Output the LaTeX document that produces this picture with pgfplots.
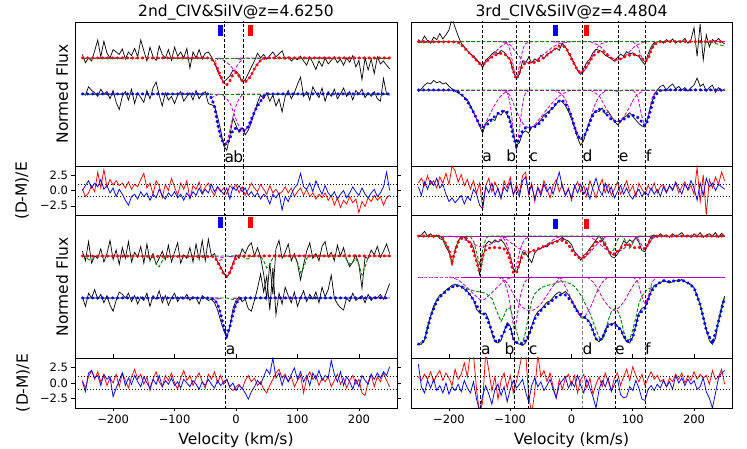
\documentclass[border=0pt]{standalone}
\usepackage{pgfplots}
\usepackage{pgfplotstable}
\pgfplotsset{compat=1.18}
\usepackage{fontspec}
\setmainfont{DejaVu Sans}
\definecolor{mplred}{RGB}{255,0,0}
\definecolor{mplblue}{RGB}{0,0,255}
\definecolor{mplgreen}{RGB}{0,128,0}
\definecolor{mplmag}{RGB}{191,0,191}
\newcommand{\lab}{\fontsize{15.5bp}{18bp}\selectfont}
\pgfplotsset{
  base/.style={scale only axis, xmin=-262, xmax=262, axis line style={line width=0.8bp},
    tick style={black, line width=0.6bp}, tick align=outside, major tick length=3.5bp,
    xtick=\empty, ytick=\empty, ticklabel style={font=\fontsize{11.5bp}{13bp}\selectfont}},
  dat/.style={black, line width=0.7bp},
  modr/.style={mplred, line width=3bp, line cap=round, dash pattern=on 0.6bp off 4.4bp},
  modb/.style={mplblue, line width=3bp, line cap=round, dash pattern=on 0.6bp off 4.4bp},
  grn/.style={mplgreen, line width=0.9bp, dash pattern=on 3.5bp off 1.8bp},
  mag/.style={mplmag, line width=0.8bp, dash pattern=on 3.5bp off 1.8bp, smooth},
  vl/.style={black, line width=0.9bp, dash pattern=on 3.2bp off 2bp},
  resr/.style={mplred, line width=0.75bp},
  resb/.style={mplblue, line width=0.75bp},
  dotl/.style={black, line width=1.2bp, dash pattern=on 1.2bp off 1.8bp},
}
\pgfplotstableread{
x u l
-250 1.66 1.02
-245 1.52 0.98
-240 1.60 1.12
-235 1.55 1.06
-230 1.72 1.02
-225 1.90 0.96
-220 1.62 1.08
-215 1.88 1.00
-210 1.68 1.04
-205 1.60 0.92
-200 1.74 1.06
-195 1.70 0.86
-190 1.66 0.74
-185 1.75 0.96
-180 1.58 1.04
-175 1.70 0.90
-170 1.64 1.08
-165 1.76 0.84
-160 1.62 1.02
-155 1.90 0.94
-150 1.72 0.86
-145 1.55 1.06
-140 1.78 0.92
-135 1.62 1.10
-130 1.56 1.20
-125 1.80 0.98
-120 1.66 0.80
-115 1.60 1.02
-110 1.74 0.90
-105 1.56 0.96
-100 1.78 0.84
-95 1.63 0.98
-90 1.70 1.04
-85 1.60 0.88
-80 1.76 0.96
-75 1.43 1.02
-70 1.70 0.90
-65 1.60 1.06
-60 1.74 0.92
-55 1.58 1.00
-50 1.68 1.04
-45 1.70 0.84
-40 1.62 0.82
-35 1.52 0.80
-30 1.38 0.62
-25 1.27 0.40
-20 1.20 0.14
-15 1.25 0.06
-10 1.30 0.30
-5 1.40 0.60
0 1.38 0.48
5 1.32 0.36
10 1.20 0.44
15 1.24 0.32
20 1.34 0.40
25 1.45 0.52
30 1.55 0.70
35 1.68 0.86
40 1.60 0.98
45 1.66 0.92
50 1.58 1.02
55 1.64 0.88
60 1.70 0.98
65 1.62 0.80
70 1.67 0.92
75 1.72 0.70
80 1.58 0.96
85 1.62 1.06
90 1.55 0.92
95 1.60 1.02
100 1.57 1.16
105 1.63 1.28
110 1.55 0.96
115 1.48 1.04
120 1.62 0.90
125 1.52 1.12
130 1.41 1.02
135 1.55 0.94
140 1.46 1.10
145 1.60 0.88
150 1.50 1.04
155 1.56 0.96
160 1.62 1.08
165 1.52 0.92
170 1.58 1.00
175 1.48 1.10
180 1.60 0.96
185 1.53 1.04
190 1.64 0.90
195 1.45 1.06
200 1.56 1.00
205 1.24 1.08
210 1.60 0.94
215 1.40 1.02
220 1.58 0.96
225 1.34 1.04
230 1.62 0.92
235 1.50 0.88
240 1.55 1.26
245 1.48 1.00
250 1.42 0.98
}\LT
\pgfplotstableread{
x u l
-250 1.78 1.02
-245 1.62 0.86
-240 1.94 1.08
-235 1.58 1.00
-230 1.70 1.14
-225 1.66 0.98
-220 1.82 1.06
-215 1.60 0.92
-210 1.74 1.04
-205 1.96 0.88
-200 1.64 0.78
-195 1.80 0.96
-190 1.56 1.10
-185 1.84 1.06
-180 1.66 1.00
-175 1.94 1.08
-170 1.60 0.94
-165 1.76 1.04
-160 1.68 0.90
-155 1.86 1.02
-150 1.58 0.96
-145 1.90 1.08
-140 1.62 0.86
-135 1.74 1.04
-130 1.56 0.98
-125 1.66 1.12
-120 1.78 0.92
-115 1.64 1.04
-110 1.88 0.88
-105 1.60 1.00
-100 1.76 1.08
-95 1.92 0.94
-90 1.58 1.02
-85 1.72 0.98
-80 1.66 1.06
-75 1.84 0.96
-70 1.60 1.02
-65 1.90 1.00
-60 1.64 0.90
-55 1.96 1.04
-50 1.62 1.00
-45 1.98 0.96
-40 1.70 0.98
-35 1.74 0.92
-30 1.60 0.80
-25 1.52 0.62
-20 1.42 0.46
-15 1.34 0.34
-10 1.42 0.52
-5 1.58 0.82
0 1.72 0.96
5 1.66 1.02
10 1.82 0.94
15 1.74 0.98
20 1.86 0.82
25 1.92 0.78
30 1.70 0.96
35 1.84 1.16
40 1.68 1.40
45 1.40 1.10
50 1.00 1.36
55 1.58 0.80
60 1.06 1.50
65 1.82 0.72
70 1.96 1.08
75 1.66 0.90
80 1.76 1.18
85 1.90 1.04
90 1.62 0.92
95 1.74 1.10
100 1.58 0.86
105 1.30 1.00
110 1.56 1.12
115 1.78 0.94
120 1.92 1.06
125 1.66 0.98
130 1.74 1.10
135 1.62 0.92
140 1.86 1.18
145 1.94 1.02
150 1.68 1.14
155 1.76 1.38
160 1.62 1.00
165 1.88 0.90
170 1.70 0.84
175 1.84 0.80
180 1.64 1.00
185 1.52 0.94
190 1.60 1.08
195 1.72 0.96
200 1.56 1.00
205 1.16 1.04
210 1.68 0.92
215 1.66 1.06
220 1.80 0.96
225 1.72 1.02
230 1.86 1.00
235 1.68 1.06
240 1.78 0.98
245 1.90 1.10
250 1.74 1.24
}\LB
\pgfplotstableread{
x u l
-250 1.84 0.97
-245 1.80 1.02
-240 1.90 1.08
-235 1.82 1.12
-230 1.78 1.10
-225 1.88 1.16
-220 1.84 1.12
-215 1.94 1.14
-210 1.85 1.10
-205 1.92 1.12
-200 2.00 1.06
-195 2.20 1.02
-190 2.04 0.98
-185 1.90 0.95
-180 1.78 0.92
-175 1.72 0.88
-170 1.66 0.84
-165 1.60 0.74
-160 1.57 0.64
-155 1.51 0.52
-150 1.46 0.40
-145 1.37 0.28
-140 1.50 0.44
-135 1.54 0.50
-130 1.60 0.52
-125 1.64 0.49
-120 1.60 0.62
-115 1.66 0.58
-110 1.63 0.66
-105 1.56 0.58
-100 1.50 0.50
-95 1.30 0.26
-90 1.20 0.08
-85 1.26 0.12
-80 1.48 0.28
-75 1.44 0.32
-70 1.55 0.28
-65 1.45 0.38
-60 1.52 0.40
-55 1.48 0.44
-50 1.58 0.50
-45 1.52 0.58
-40 1.60 0.62
-35 1.62 0.66
-30 1.66 0.70
-25 1.70 0.76
-20 1.66 0.83
-15 1.78 0.80
-10 1.72 0.74
-5 1.62 0.64
0 1.54 0.52
5 1.44 0.36
10 1.32 0.20
15 1.26 0.08
20 1.36 0.16
25 1.46 0.34
30 1.52 0.50
35 1.62 0.60
40 1.68 0.66
45 1.66 0.64
50 1.64 0.70
55 1.58 0.60
60 1.55 0.64
65 1.52 0.56
70 1.48 0.48
75 1.54 0.42
80 1.60 0.47
85 1.56 0.54
90 1.64 0.57
95 1.60 0.62
100 1.62 0.56
105 1.58 0.50
110 1.56 0.44
115 1.48 0.40
120 1.42 0.38
125 1.60 0.56
130 1.72 0.76
135 1.79 0.92
140 1.80 1.00
145 1.82 1.06
150 1.78 1.08
155 1.84 1.00
160 1.80 1.06
165 1.85 1.10
170 1.78 1.02
175 1.82 1.06
180 1.80 1.00
185 1.86 1.04
190 1.78 0.98
195 1.84 1.04
200 2.04 1.08
205 1.56 1.20
210 2.10 1.06
215 1.50 1.10
220 1.92 0.98
225 1.72 1.04
230 1.84 1.08
235 1.80 0.96
240 1.86 1.04
245 1.80 0.98
250 1.77 1.02
}\RT
\pgfplotstableread{
x u l
-250 1.69 -0.12
-245 1.70 -0.12
-240 1.76 -0.05
-235 1.68 0.18
-230 1.72 0.36
-225 1.66 0.52
-220 1.70 0.62
-215 1.64 0.70
-210 1.62 0.72
-205 1.50 0.78
-200 1.42 0.82
-195 1.22 0.86
-190 1.46 0.88
-185 1.60 0.86
-180 1.68 0.84
-175 1.66 0.80
-170 1.60 0.76
-165 1.58 0.70
-160 1.48 0.62
-155 1.28 0.46
-150 1.04 0.40
-145 1.30 0.38
-140 1.54 0.40
-135 1.60 0.28
-130 1.56 0.06
-125 1.62 -0.08
-120 1.58 -0.10
-115 1.62 -0.06
-110 1.56 0.10
-105 1.46 0.24
-100 1.34 0.18
-95 1.14 -0.04
-90 1.08 -0.10
-85 1.20 -0.12
-80 1.42 -0.14
-75 1.40 -0.10
-70 1.32 0.02
-65 1.24 0.18
-60 1.40 0.34
-55 1.46 0.42
-50 1.48 0.46
-45 1.52 0.52
-40 1.50 0.58
-35 1.56 0.60
-30 1.58 0.66
-25 1.60 0.72
-20 1.62 0.75
-15 1.66 0.72
-10 1.62 0.76
-5 1.60 0.70
0 1.54 0.62
5 1.42 0.52
10 1.36 0.44
15 1.28 0.34
20 1.36 0.32
25 1.40 0.30
30 1.48 0.24
35 1.54 0.10
40 1.62 -0.04
45 1.68 -0.08
50 1.62 -0.02
55 1.54 0.12
60 1.44 0.22
65 1.34 0.20
70 1.32 0.24
75 1.38 0.18
80 1.48 0.14
85 1.60 0.00
90 1.56 -0.08
95 1.62 -0.10
100 1.58 0.00
105 1.66 0.20
110 1.58 0.40
115 1.44 0.48
120 1.42 0.50
125 1.56 0.62
130 1.68 0.76
135 1.70 0.86
140 1.66 0.88
145 1.72 0.90
150 1.68 0.94
155 1.70 0.92
160 1.66 0.90
165 1.72 0.92
170 1.68 0.94
175 1.70 0.92
180 1.74 0.96
185 1.67 0.92
190 1.70 0.90
195 1.66 0.88
200 1.72 0.82
205 1.68 0.70
210 1.74 0.54
215 1.66 0.34
220 1.70 0.12
225 1.72 -0.06
230 1.68 -0.12
235 1.74 -0.02
240 1.66 0.28
245 1.73 0.52
250 1.68 0.68
}\RB
\pgfplotstableread{
x r b
-250 0.2 0.0
-245 -1.0 0.8
-240 -0.4 1.6
-235 0.8 0.4
-230 -0.2 1.2
-225 3.0 0.6
-220 0.4 1.8
-215 3.4 0.2
-210 0.6 0.8
-205 1.8 -0.4
-200 0.9 0.4
-195 1.6 -1.0
-190 0.8 0.2
-185 1.2 -0.6
-180 0.4 -1.6
-175 1.4 -2.4
-170 0.2 -1.0
-165 1.0 -0.6
-160 0.6 -1.4
-155 1.8 -0.2
-150 2.8 -1.0
-145 0.4 -0.4
-140 1.2 -1.6
-135 -0.6 -0.6
-130 1.6 -1.2
-125 0.8 0.2
-120 -1.2 -0.8
-115 1.0 -1.4
-110 0.0 -0.4
-105 2.0 -1.0
-100 0.6 -0.2
-95 -0.8 -1.2
-90 1.2 -0.6
-85 0.2 -1.6
-80 1.6 -0.4
-75 -1.4 -1.2
-70 0.8 -0.2
-65 0.2 -0.8
-60 1.4 0.4
-55 -0.4 -0.6
-50 0.6 0.2
-45 1.2 -0.4
-40 0.0 1.0
-35 -0.8 -0.2
-30 0.6 0.6
-25 -0.2 0.0
-20 0.4 -0.6
-15 -0.6 0.4
-10 0.8 -1.4
-5 0.2 0.6
0 1.0 0.0
5 -0.4 0.8
10 0.6 -0.2
15 -0.8 0.4
20 0.2 -0.8
25 1.2 -0.2
30 0.4 -1.0
35 -0.2 -0.4
40 1.0 -1.4
45 0.2 -0.6
50 -0.6 -1.0
55 0.8 -2.2
60 -0.4 -0.6
65 0.2 -1.2
70 -0.6 -0.4
75 -0.2 -3.2
80 0.6 -1.0
85 -0.4 -1.8
90 0.4 -0.6
95 -1.0 0.4
100 -0.2 1.0
105 0.4 2.8
110 -0.8 0.6
115 0.2 0.2
120 -1.0 1.2
125 -0.4 -0.2
130 -1.4 1.6
135 -0.6 0.4
140 -1.2 -0.6
145 -0.4 0.8
150 -1.6 -0.4
155 -0.8 -1.0
160 -2.4 -0.2
165 -1.2 -1.4
170 -2.8 -0.6
175 -1.6 0.0
180 -2.2 -1.2
185 -1.0 -0.4
190 -2.0 0.6
195 -1.4 -0.2
200 -3.6 -0.8
205 -1.8 0.4
210 -2.6 -0.6
215 -1.2 -1.2
220 -1.8 -0.4
225 -0.8 0.2
230 -1.6 -1.0
235 -1.0 -0.4
240 -2.4 0.6
245 -1.2 3.0
250 -0.8 0.0
}\RLT
\pgfplotstableread{
x r b
-250 0.4 0.2
-245 -0.8 -1.4
-240 1.0 1.6
-235 2.0 2.0
-230 0.6 0.8
-225 1.8 1.2
-220 0.2 -0.4
-215 1.2 1.4
-210 -0.4 0.6
-205 0.8 1.0
-200 0.0 -2.2
-195 1.4 -0.8
-190 -0.6 0.4
-185 1.6 1.6
-180 0.4 -0.4
-175 -0.8 0.8
-170 1.0 -0.2
-165 2.2 1.2
-160 0.6 0.2
-155 1.4 -0.6
-150 -0.2 1.0
-145 1.0 0.0
-140 -1.2 -0.8
-135 0.6 0.6
-130 1.8 -0.2
-125 0.2 1.2
-120 -0.6 -0.6
-115 1.2 0.4
-110 0.4 -0.2
-105 1.6 0.8
-100 0.0 -0.4
-95 -1.0 0.2
-90 0.8 -0.8
-85 2.0 0.6
-80 0.4 0.0
-75 1.2 -0.6
-70 -0.4 0.4
-65 0.8 -0.2
-60 1.6 -1.0
-55 0.2 0.2
-50 -0.8 -0.4
-45 1.4 0.6
-40 0.6 -0.2
-35 1.8 -0.8
-30 0.0 0.4
-25 1.2 -0.4
-20 -0.2 0.2
-15 0.6 0.6
-10 -0.8 -0.6
-5 -1.2 0.0
0 -0.6 -1.2
5 -0.2 -0.4
10 -1.0 -0.8
15 0.4 -1.6
20 1.2 -2.6
25 0.2 -1.4
30 0.8 -0.6
35 -0.4 0.4
40 0.2 -0.2
45 -1.0 1.0
50 -1.6 2.2
55 -0.4 1.4
60 0.6 4.0
65 1.6 0.8
70 2.2 1.6
75 0.8 -0.4
80 1.4 1.2
85 0.2 0.2
90 1.0 1.4
95 -0.6 2.4
100 0.4 0.6
105 1.2 1.8
110 -1.6 0.2
115 0.8 1.2
120 1.8 -0.4
125 0.6 1.6
130 1.2 0.6
135 -0.4 2.0
140 0.8 0.4
145 0.2 1.2
150 1.0 0.8
155 -0.6 3.6
160 0.4 1.4
165 1.4 0.2
170 -0.2 1.8
175 0.8 -0.4
180 -0.8 1.0
185 0.4 0.2
190 1.2 -1.0
195 -0.2 0.6
200 0.6 -0.6
205 -1.6 1.2
210 -2.0 0.4
215 0.2 -0.2
220 1.4 1.4
225 -0.6 0.6
230 1.0 1.6
235 0.2 0.8
240 1.6 1.8
245 0.4 1.2
250 -0.6 2.6
}\RLB
\pgfplotstableread{
x r b
-250 1.2 0.6
-245 2.0 -0.8
-240 0.8 1.4
-235 2.4 0.2
-230 1.0 1.6
-225 1.6 0.8
-220 0.4 2.0
-215 2.2 0.4
-210 1.2 1.0
-205 2.8 -0.6
-200 1.0 -1.8
-195 4.0 -1.2
-190 3.2 -2.0
-185 1.4 -1.4
-180 2.6 -0.8
-175 0.8 -2.2
-170 1.8 -1.0
-165 0.2 -1.6
-160 1.6 0.2
-155 -0.4 -0.6
-150 1.2 -2.4
-145 -2.8 -3.0
-140 0.8 0.6
-135 2.0 -0.4
-130 -0.2 1.2
-125 1.4 -0.8
-120 0.2 0.4
-115 -1.4 -1.2
-110 1.6 0.6
-105 0.4 -0.2
-100 2.2 1.4
-95 -0.8 -0.6
-90 1.0 0.2
-85 -0.4 -1.0
-80 2.4 1.6
-75 3.0 2.2
-70 -0.6 -0.4
-65 1.2 0.8
-60 -1.8 -1.4
-55 0.6 0.4
-50 -0.4 -0.8
-45 1.6 1.0
-40 0.2 -0.2
-35 -1.2 0.6
-30 0.8 -0.6
-25 1.8 1.2
-20 -0.2 3.0
-15 1.0 0.6
-10 -0.8 -0.8
-5 0.4 0.2
0 -1.6 -1.2
5 0.6 0.8
10 1.4 -0.4
15 -0.2 1.0
20 0.8 -0.6
25 -1.0 0.4
30 1.6 -1.4
35 0.2 0.6
40 -1.2 2.0
45 0.6 0.2
50 1.8 -0.8
55 -0.4 1.2
60 1.0 -0.4
65 -0.8 0.6
70 0.2 -1.2
75 1.4 -0.2
80 -0.6 0.8
85 0.4 -0.6
90 1.6 0.4
95 -0.2 -0.8
100 0.8 -1.4
105 -1.0 -0.4
110 1.2 0.2
115 0.2 -1.0
120 -0.6 -0.2
125 0.8 -0.8
130 0.0 0.4
135 1.2 -0.6
140 -0.4 0.2
145 0.6 -1.0
150 1.0 0.6
155 -0.2 -0.4
160 0.8 0.8
165 0.2 0.0
170 1.2 1.4
175 -0.4 0.4
180 0.6 -0.6
185 1.4 1.0
190 0.0 0.2
195 0.8 1.6
200 -0.6 0.4
205 3.8 -1.6
210 -1.8 1.2
215 2.6 -0.8
220 -4.0 2.0
225 1.8 0.6
230 0.4 1.2
235 2.2 0.0
240 1.0 1.0
245 3.0 0.6
250 1.6 0.2
}\RRT
\pgfplotstableread{
x r b
-250 1.0 3.0
-245 0.4 -0.6
-240 1.4 -1.6
-235 0.6 0.4
-230 1.8 -0.8
-225 0.2 0.6
-220 1.2 -1.2
-215 2.0 -0.4
-210 0.4 -1.6
-205 1.6 0.0
-200 0.8 -1.8
-195 -0.4 -0.6
-190 2.2 -1.2
-185 0.6 -0.2
-180 1.4 -1.4
-175 3.2 0.4
-170 1.0 -0.8
-165 5.0 -1.6
-160 4.5 0.2
-155 -1.0 -2.6
-150 -5.0 -4.5
-145 -3.0 -2.0
-140 5.0 -0.4
-135 2.0 -1.8
-130 -1.2 -3.4
-125 1.0 -1.0
-120 -2.6 -0.2
-115 0.4 -2.0
-110 1.6 -0.6
-105 -0.8 -3.0
-100 1.2 -1.0
-95 -1.6 0.4
-90 0.2 -0.8
-85 2.4 -0.2
-80 5.0 0.6
-75 5.0 -1.4
-70 -2.0 -3.0
-65 -5.0 -0.4
-60 -1.4 0.8
-55 4.6 -0.6
-50 1.0 0.2
-45 2.0 -1.2
-40 0.2 -0.4
-35 1.6 0.6
-30 -0.6 -1.0
-25 -2.4 -2.4
-20 0.6 -0.2
-15 -1.0 0.4
-10 0.8 1.0
-5 1.4 -0.8
0 -0.4 0.2
5 1.2 -0.6
10 -1.6 1.2
15 0.6 -0.4
20 1.4 -1.6
25 -0.8 0.6
30 0.8 -0.8
35 -1.8 -2.2
40 -0.2 -4.0
45 1.0 -1.0
50 -0.6 0.4
55 1.6 -0.6
60 0.2 0.8
65 -1.2 -1.4
70 0.8 -0.2
75 1.6 0.6
80 -0.4 -1.8
85 1.0 -2.4
90 2.2 -2.2
95 0.4 -0.6
100 2.6 -1.2
105 1.2 0.4
110 0.2 -0.8
115 1.4 -2.6
120 -0.4 -2.8
125 0.8 -1.0
130 1.8 -0.4
135 0.6 -1.2
140 1.2 -0.2
145 0.2 -0.8
150 0.6 0.4
155 -0.6 -0.6
160 0.8 0.2
165 0.2 -1.0
170 1.4 1.2
175 0.6 0.0
180 1.6 0.8
185 0.0 -0.4
190 1.2 0.6
195 0.4 -0.2
200 1.8 0.4
205 0.6 -1.0
210 1.4 -0.6
215 0.8 0.8
220 1.2 -1.4
225 -0.2 -2.4
230 2.0 -4.0
235 0.6 -1.6
240 1.0 0.8
245 2.2 1.6
250 -0.2 2.0
}\RRB
\begin{document}
\begin{tikzpicture}[x=1bp,y=1bp]
\useasboundingbox (0,0) rectangle (747,449);
\coordinate (pLT) at (75,427);
\coordinate (pLTr) at (75,283);
\coordinate (pLB) at (75,234);
\coordinate (pLBr) at (75,91);
\coordinate (pRT) at (411,427);
\coordinate (pRTr) at (411,283);
\coordinate (pRB) at (411,234);
\coordinate (pRBr) at (411,91);
% ================= LEFT TOP FLUX
\begin{axis}[base, at={(pLT)}, anchor=north west, width=322bp, height=144bp, ymin=-0.2, ymax=2.2]
\addplot[dat] table[x=x,y=u]{\LT};
\addplot[dat] table[x=x,y=l]{\LT};
\addplot[mag] coordinates {(-250,1.6)(-45,1.6)(-35,1.52)(-25,1.30)(-20,1.19)(-15,1.16)(-10,1.22)(-5,1.34)(0,1.44)(5,1.52)(10,1.57)(15,1.6)(250,1.6)};
\addplot[mag] coordinates {(-30,1.6)(-20,1.56)(-10,1.48)(-5,1.42)(0,1.36)(5,1.28)(10,1.22)(15,1.21)(20,1.25)(25,1.32)(30,1.42)(35,1.50)(40,1.56)(45,1.59)(50,1.6)};
\addplot[mag] coordinates {(-250,1.0)(-45,1.0)(-40,0.93)(-35,0.80)(-30,0.52)(-25,0.30)(-20,0.18)(-15,0.20)(-10,0.40)(-5,0.62)(0,0.80)(5,0.92)(10,0.98)(15,1.0)(250,1.0)};
\addplot[mag] coordinates {(-30,1.0)(-20,0.97)(-10,0.85)(-5,0.72)(0,0.58)(5,0.46)(10,0.40)(15,0.40)(20,0.46)(25,0.58)(30,0.70)(35,0.80)(40,0.88)(45,0.96)(50,1.0)};
\addplot[grn] coordinates {(-250,1.6)(250,1.6)};
\addplot[grn] coordinates {(-250,1.0)(250,1.0)};
\addplot[modr] coordinates {(-250,1.6)(-45,1.6)(-40,1.58)(-35,1.52)(-30,1.42)(-25,1.30)(-20,1.19)(-15,1.15)(-10,1.22)(-5,1.32)(0,1.36)(5,1.30)(10,1.22)(15,1.20)(20,1.24)(25,1.32)(30,1.42)(35,1.50)(40,1.56)(45,1.59)(50,1.6)(250,1.6)};
\addplot[modb] coordinates {(-250,1.0)(-45,1.0)(-40,0.93)(-35,0.80)(-30,0.50)(-25,0.30)(-20,0.17)(-15,0.16)(-10,0.26)(-5,0.40)(0,0.43)(5,0.40)(10,0.37)(15,0.40)(20,0.46)(25,0.58)(30,0.70)(35,0.80)(40,0.88)(45,0.96)(50,1.0)(250,1.0)};
\addplot[vl] coordinates {(-19,-1)(-19,3)};
\addplot[vl] coordinates {(12,-1)(12,3)};
\addplot[mplblue, line width=5bp] coordinates {(-26,1.97)(-26,2.15)};
\addplot[mplred, line width=5bp] coordinates {(24,1.97)(24,2.15)};
\node[anchor=base west, inner sep=0pt, font=\lab] at (axis cs:-19,-0.15) {a};
\node[anchor=base east, inner sep=0pt, font=\lab] at (axis cs:12,-0.15) {b};
\end{axis}
% ================= LEFT TOP RESIDUAL
\begin{axis}[base, at={(pLTr)}, anchor=north west, width=322bp, height=49bp, ymin=-4, ymax=4,
  ytick={-2.5,0,2.5}, yticklabels={−2.5,0.0,2.5}]
\addplot[resr] table[x=x,y=r]{\RLT};
\addplot[resb] table[x=x,y=b]{\RLT};
\addplot[dotl] coordinates {(-262,1)(262,1)};
\addplot[dotl] coordinates {(-262,-1)(262,-1)};
\addplot[vl] coordinates {(-19,-5)(-19,5)};
\addplot[vl] coordinates {(12,-5)(12,5)};
\end{axis}
% ================= LEFT BOTTOM FLUX
\begin{axis}[base, at={(pLB)}, anchor=north west, width=322bp, height=143bp, ymin=0, ymax=2.3833]
\addplot[dat] table[x=x,y=u]{\LB};
\addplot[dat] table[x=x,y=l]{\LB};
\addplot[mag] coordinates {(-250,1.70)(-35,1.69)(-30,1.60)(-25,1.50)(-20,1.40)(-15,1.36)(-10,1.43)(-5,1.56)(0,1.67)(5,1.70)(250,1.70)};
\addplot[mag] coordinates {(-250,1.0)(-40,1.0)(-35,0.97)(-30,0.90)(-25,0.74)(-20,0.52)(-15,0.38)(-10,0.52)(-5,0.74)(0,0.90)(5,0.98)(10,1.0)(250,1.0)};
\addplot[grn] coordinates {(-250,1.70)(-245,1.69)(-240,1.64)(-235,1.63)(-230,1.68)(-225,1.70)(-135,1.70)(-130,1.58)(-125,1.52)(-120,1.62)(-115,1.70)(10,1.70)(15,1.66)(20,1.65)(25,1.69)(30,1.70)(40,1.70)(45,1.62)(50,1.50)(55,1.55)(60,1.68)(65,1.70)(95,1.70)(100,1.60)(105,1.42)(110,1.50)(115,1.66)(120,1.70)(175,1.70)(180,1.64)(185,1.56)(190,1.60)(195,1.66)(200,1.55)(205,1.38)(210,1.52)(215,1.68)(220,1.70)(250,1.70)};
\addplot[grn] coordinates {(-250,1.0)(-15,1.0)(-10,0.985)(-5,0.975)(0,0.975)(5,0.99)(10,1.0)(250,1.0)};
\addplot[modr] coordinates {(-250,1.70)(-35,1.69)(-30,1.60)(-25,1.50)(-20,1.40)(-15,1.36)(-10,1.43)(-5,1.56)(0,1.67)(5,1.70)(250,1.70)};
\addplot[modb] coordinates {(-250,1.0)(-40,1.0)(-35,0.97)(-30,0.90)(-25,0.74)(-20,0.52)(-15,0.38)(-10,0.52)(-5,0.74)(0,0.90)(5,0.98)(10,1.0)(250,1.0)};
\addplot[vl] coordinates {(-17,-1)(-17,3)};
\addplot[mplblue, line width=5bp] coordinates {(-26,2.17)(-26,2.35)};
\addplot[mplred, line width=5bp] coordinates {(24,2.17)(24,2.35)};
\node[anchor=base west, inner sep=0pt, font=\lab] at (axis cs:-17,0.05) {a};
\end{axis}
% ================= LEFT BOTTOM RESIDUAL
\begin{axis}[base, at={(pLBr)}, anchor=north west, width=322bp, height=50bp, ymin=-4, ymax=4,
  ytick={-2.5,0,2.5}, yticklabels={−2.5,0.0,2.5},
  xtick={-200,-100,0,100,200}, xticklabels={−200,−100,0,100,200}]
\addplot[resr] table[x=x,y=r]{\RLB};
\addplot[resb] table[x=x,y=b]{\RLB};
\addplot[dotl] coordinates {(-262,1)(262,1)};
\addplot[dotl] coordinates {(-262,-1)(262,-1)};
\addplot[vl] coordinates {(-17,-5)(-17,5)};
\end{axis}
% ================= RIGHT TOP FLUX
\begin{axis}[base, at={(pRT)}, anchor=north west, width=321bp, height=144bp, ymin=-0.2667, ymax=2.1333]
\addplot[dat] table[x=x,y=u]{\RT};
\addplot[dat] table[x=x,y=l]{\RT};
\addplot[mag] coordinates {(-195,1.806)(-185,1.78)(-175,1.71)(-165,1.60)(-155,1.49)(-146,1.42)(-137,1.49)(-127,1.60)(-117,1.71)(-107,1.78)(-97,1.806)};
\addplot[mag] coordinates {(-115,1.806)(-105,1.77)(-100,1.65)(-95,1.40)(-90,1.18)(-85,1.40)(-80,1.65)(-75,1.77)(-65,1.806)};
\addplot[mag] coordinates {(-110,1.806)(-100,1.75)(-90,1.62)(-80,1.50)(-70,1.45)(-60,1.48)(-50,1.56)(-40,1.64)(-30,1.72)(-20,1.77)(-10,1.79)(0,1.806)};
\addplot[mag] coordinates {(-30,1.806)(-15,1.76)(-5,1.62)(5,1.42)(16,1.28)(27,1.42)(37,1.62)(47,1.76)(60,1.806)};
\addplot[mag] coordinates {(30,1.806)(45,1.74)(55,1.64)(65,1.54)(75,1.50)(85,1.54)(95,1.64)(105,1.74)(120,1.806)};
\addplot[mag] coordinates {(100,1.806)(108,1.72)(114,1.56)(120,1.47)(126,1.56)(132,1.72)(140,1.806)};
\addplot[mag] coordinates {(-195,1.0)(-185,0.97)(-175,0.88)(-165,0.72)(-155,0.52)(-146,0.37)(-137,0.52)(-127,0.72)(-117,0.88)(-107,0.97)(-97,1.0)};
\addplot[mag] coordinates {(-115,1.0)(-105,0.95)(-100,0.75)(-95,0.35)(-90,0.07)(-85,0.35)(-80,0.75)(-75,0.95)(-65,1.0)};
\addplot[mag] coordinates {(-110,1.0)(-100,0.9)(-90,0.65)(-80,0.45)(-70,0.37)(-60,0.42)(-50,0.55)(-40,0.68)(-30,0.80)(-20,0.90)(-10,0.96)(0,1.0)};
\addplot[mag] coordinates {(-30,1.0)(-15,0.92)(-5,0.72)(5,0.40)(16,0.17)(27,0.40)(37,0.72)(47,0.92)(60,1.0)};
\addplot[mag] coordinates {(30,1.0)(45,0.90)(55,0.72)(65,0.55)(75,0.47)(85,0.55)(95,0.72)(105,0.90)(120,1.0)};
\addplot[mag] coordinates {(100,1.0)(108,0.88)(114,0.60)(120,0.42)(126,0.60)(132,0.88)(140,1.0)};
\addplot[mag] coordinates {(-250,1.806)(250,1.806)};
\addplot[mag] coordinates {(-250,1.0)(250,1.0)};
\addplot[grn] coordinates {(-250,1.79)(-200,1.806)(200,1.806)(230,1.79)(250,1.73)};
\addplot[grn] coordinates {(-250,1.0)(65,1.0)(75,0.975)(85,1.0)(250,1.0)};
\addplot[modr] coordinates {(-250,1.806)(-185,1.80)(-180,1.76)(-175,1.70)(-170,1.65)(-165,1.60)(-160,1.55)(-155,1.49)(-150,1.44)(-145,1.42)(-140,1.46)(-135,1.51)(-130,1.55)(-125,1.58)(-120,1.60)(-115,1.61)(-110,1.60)(-105,1.57)(-100,1.50)(-95,1.32)(-90,1.18)(-85,1.30)(-80,1.41)(-75,1.45)(-70,1.45)(-65,1.45)(-60,1.46)(-55,1.48)(-50,1.51)(-45,1.54)(-40,1.58)(-35,1.62)(-30,1.66)(-25,1.70)(-20,1.73)(-15,1.74)(-10,1.71)(-5,1.64)(0,1.52)(5,1.42)(10,1.33)(15,1.28)(20,1.32)(25,1.40)(30,1.48)(35,1.56)(40,1.61)(45,1.64)(50,1.64)(55,1.62)(60,1.57)(65,1.53)(70,1.50)(75,1.50)(80,1.52)(85,1.54)(90,1.57)(95,1.58)(100,1.59)(105,1.59)(110,1.57)(115,1.52)(120,1.47)(125,1.52)(130,1.66)(135,1.76)(140,1.79)(145,1.806)(250,1.806)};
\addplot[modb] coordinates {(-250,1.0)(-195,1.0)(-190,0.99)(-185,0.97)(-180,0.93)(-175,0.87)(-170,0.81)(-165,0.72)(-160,0.63)(-155,0.52)(-150,0.42)(-145,0.37)(-140,0.40)(-135,0.45)(-130,0.51)(-125,0.56)(-120,0.61)(-115,0.64)(-110,0.65)(-105,0.63)(-100,0.46)(-95,0.22)(-90,0.07)(-85,0.20)(-80,0.32)(-75,0.37)(-70,0.37)(-65,0.37)(-60,0.39)(-55,0.42)(-50,0.47)(-45,0.52)(-40,0.59)(-35,0.65)(-30,0.72)(-25,0.78)(-20,0.82)(-15,0.83)(-10,0.78)(-5,0.68)(0,0.56)(5,0.38)(10,0.24)(15,0.17)(20,0.22)(25,0.32)(30,0.46)(35,0.58)(40,0.65)(45,0.68)(50,0.67)(55,0.62)(60,0.56)(65,0.51)(70,0.48)(75,0.47)(80,0.48)(85,0.51)(90,0.54)(95,0.57)(100,0.58)(105,0.56)(110,0.53)(115,0.46)(120,0.41)(125,0.50)(130,0.70)(135,0.88)(140,0.95)(145,0.99)(150,1.0)(250,1.0)};
\addplot[vl] coordinates {(-146,-1)(-146,3)};
\addplot[vl] coordinates {(-90,-1)(-90,3)};
\addplot[vl] coordinates {(-69,-1)(-69,3)};
\addplot[vl] coordinates {(18,-1)(18,3)};
\addplot[vl] coordinates {(77,-1)(77,3)};
\addplot[vl] coordinates {(121,-1)(121,3)};
\addplot[mplblue, line width=5bp] coordinates {(-26,1.90)(-26,2.08)};
\addplot[mplred, line width=5bp] coordinates {(24,1.90)(24,2.08)};
\node[anchor=base west, inner sep=0pt, font=\lab] at (axis cs:-146,-0.2) {a};
\node[anchor=base east, inner sep=0pt, font=\lab] at (axis cs:-90,-0.2) {b};
\node[anchor=base west, inner sep=0pt, font=\lab] at (axis cs:-69,-0.2) {c};
\node[anchor=base west, inner sep=0pt, font=\lab] at (axis cs:18,-0.2) {d};
\node[anchor=base west, inner sep=0pt, font=\lab] at (axis cs:77,-0.2) {e};
\node[anchor=base west, inner sep=0pt, font=\lab] at (axis cs:121,-0.2) {f};
\end{axis}
% ================= RIGHT TOP RESIDUAL
\begin{axis}[base, at={(pRTr)}, anchor=north west, width=321bp, height=49bp, ymin=-4, ymax=4]
\addplot[resr] table[x=x,y=r]{\RRT};
\addplot[resb] table[x=x,y=b]{\RRT};
\addplot[dotl] coordinates {(-262,1)(262,1)};
\addplot[dotl] coordinates {(-262,-1)(262,-1)};
\addplot[vl] coordinates {(-146,-5)(-146,5)};
\addplot[vl] coordinates {(-90,-5)(-90,5)};
\addplot[vl] coordinates {(-69,-5)(-69,5)};
\addplot[vl] coordinates {(18,-5)(18,5)};
\addplot[vl] coordinates {(77,-5)(77,5)};
\addplot[vl] coordinates {(121,-5)(121,5)};
\end{axis}
% ================= RIGHT BOTTOM FLUX
\begin{axis}[base, at={(pRB)}, anchor=north west, width=321bp, height=143bp, ymin=-0.35, ymax=2.0333]
\addplot[dat] table[x=x,y=u]{\RB};
\addplot[dat] table[x=x,y=l]{\RB};
\addplot[mag] coordinates {(-200,1.683)(-185,1.66)(-170,1.60)(-158,1.54)(-146,1.50)(-134,1.54)(-122,1.60)(-108,1.66)(-95,1.683)};
\addplot[mag] coordinates {(-120,1.683)(-110,1.63)(-103,1.48)(-98,1.28)(-93,1.10)(-88,1.28)(-83,1.48)(-76,1.63)(-65,1.683)};
\addplot[mag] coordinates {(-115,1.683)(-105,1.62)(-95,1.54)(-85,1.47)(-75,1.43)(-68,1.42)(-60,1.43)(-50,1.47)(-40,1.54)(-30,1.62)(-20,1.67)(-10,1.683)};
\addplot[mag] coordinates {(-25,1.683)(-15,1.64)(-5,1.54)(5,1.42)(18,1.31)(31,1.42)(41,1.54)(51,1.64)(60,1.683)};
\addplot[mag] coordinates {(25,1.683)(35,1.64)(45,1.56)(55,1.47)(70,1.40)(85,1.47)(95,1.56)(105,1.64)(115,1.683)};
\addplot[mag] coordinates {(100,1.683)(108,1.64)(114,1.54)(120,1.48)(126,1.54)(132,1.64)(140,1.683)};
\addplot[mag] coordinates {(-200,1.0)(-185,0.95)(-170,0.82)(-158,0.70)(-146,0.61)(-134,0.70)(-122,0.82)(-108,0.95)(-95,1.0)};
\addplot[mag] coordinates {(-120,1.0)(-110,0.92)(-103,0.70)(-98,0.40)(-93,0.12)(-88,0.40)(-83,0.70)(-76,0.92)(-65,1.0)};
\addplot[mag] coordinates {(-115,1.0)(-105,0.90)(-95,0.72)(-85,0.55)(-75,0.46)(-68,0.44)(-60,0.46)(-50,0.55)(-40,0.70)(-30,0.85)(-20,0.96)(-10,1.0)};
\addplot[mag] coordinates {(-25,1.0)(-15,0.92)(-5,0.74)(5,0.50)(18,0.31)(31,0.50)(41,0.74)(51,0.92)(60,1.0)};
\addplot[mag] coordinates {(25,1.0)(35,0.92)(45,0.76)(55,0.58)(70,0.44)(85,0.58)(95,0.76)(105,0.92)(115,1.0)};
\addplot[mag] coordinates {(100,1.0)(108,0.92)(114,0.70)(120,0.56)(126,0.70)(132,0.92)(140,1.0)};
\addplot[mag] coordinates {(-250,1.683)(250,1.683)};
\addplot[mag] coordinates {(-250,1.0)(250,1.0)};
\addplot[mplmag, line width=0.9bp] coordinates {(-210,1.683)(250,1.683)};
\addplot[mplmag, line width=0.9bp] coordinates {(-180,1.0)(250,1.0)};
\addplot[grn] coordinates {(-250,1.683)(-215,1.68)(-210,1.64)(-205,1.55)(-200,1.45)(-195,1.26)(-190,1.42)(-185,1.58)(-180,1.66)(-170,1.683)(-165,1.67)(-160,1.60)(-155,1.42)(-150,1.20)(-145,1.45)(-140,1.64)(-135,1.683)(45,1.683)(50,1.66)(55,1.58)(60,1.46)(65,1.40)(70,1.48)(75,1.62)(80,1.683)(85,1.66)(90,1.56)(95,1.48)(100,1.56)(105,1.66)(110,1.683)(250,1.683)};
\addplot[grn] coordinates {(-250,-0.12)(-240,-0.06)(-230,0.34)(-220,0.60)(-210,0.72)(-200,0.80)(-190,0.86)(-180,0.86)(-170,0.80)(-160,0.77)(-150,0.75)(-140,0.73)(-130,0.64)(-120,0.38)(-115,0.26)(-110,0.36)(-105,0.48)(-100,0.48)(-95,0.30)(-90,0.10)(-85,-0.08)(-80,-0.10)(-75,0.08)(-70,0.36)(-65,0.60)(-60,0.72)(-50,0.82)(-40,0.86)(-30,0.88)(-20,0.92)(-10,0.92)(0,0.88)(5,0.84)(10,0.78)(15,0.70)(20,0.60)(25,0.50)(30,0.40)(35,0.26)(40,0.12)(45,0.00)(50,-0.05)(55,0.06)(60,0.28)(65,0.42)(70,0.47)(75,0.44)(80,0.32)(85,0.10)(90,-0.06)(95,-0.04)(100,0.12)(105,0.32)(110,0.56)(115,0.68)(120,0.75)(125,0.80)(130,0.82)(140,0.88)(150,0.94)(160,0.92)(170,0.94)(180,0.95)(190,0.90)(200,0.82)(210,0.54)(220,0.12)(230,-0.11)(240,0.26)(250,0.66)};
\addplot[modr] coordinates {(-250,1.683)(-215,1.68)(-210,1.64)(-205,1.55)(-200,1.45)(-195,1.26)(-190,1.42)(-185,1.58)(-180,1.64)(-175,1.66)(-170,1.64)(-165,1.54)(-160,1.42)(-155,1.26)(-150,1.08)(-145,1.36)(-140,1.46)(-135,1.48)(-130,1.49)(-125,1.49)(-120,1.49)(-115,1.48)(-110,1.47)(-105,1.40)(-100,1.28)(-95,1.08)(-90,1.06)(-85,1.24)(-80,1.36)(-75,1.40)(-70,1.41)(-65,1.43)(-60,1.45)(-55,1.47)(-50,1.49)(-45,1.51)(-40,1.53)(-35,1.55)(-30,1.57)(-25,1.59)(-20,1.60)(-15,1.61)(-10,1.59)(-5,1.54)(0,1.45)(5,1.38)(10,1.33)(15,1.31)(20,1.33)(25,1.38)(30,1.45)(35,1.52)(40,1.58)(45,1.61)(50,1.59)(55,1.52)(60,1.44)(65,1.37)(70,1.38)(75,1.43)(80,1.48)(85,1.52)(90,1.54)(95,1.53)(100,1.50)(105,1.48)(110,1.49)(115,1.49)(120,1.46)(125,1.55)(130,1.64)(135,1.683)(250,1.683)};
\addplot[modb] coordinates {(-250,-0.12)(-240,-0.06)(-230,0.34)(-220,0.60)(-210,0.72)(-200,0.80)(-190,0.86)(-180,0.84)(-170,0.76)(-160,0.62)(-150,0.44)(-140,0.36)(-130,0.10)(-125,-0.06)(-120,-0.09)(-110,0.08)(-105,0.22)(-100,0.16)(-95,-0.02)(-90,-0.09)(-80,-0.12)(-70,0.02)(-60,0.30)(-50,0.44)(-40,0.54)(-30,0.62)(-20,0.70)(-10,0.70)(0,0.60)(10,0.42)(20,0.34)(30,0.24)(40,-0.03)(45,-0.06)(50,-0.02)(60,0.20)(70,0.22)(80,0.12)(90,-0.06)(95,-0.08)(100,0.00)(110,0.38)(120,0.48)(130,0.76)(140,0.88)(150,0.94)(160,0.92)(170,0.94)(180,0.95)(190,0.90)(200,0.82)(210,0.54)(220,0.12)(230,-0.11)(240,0.26)(250,0.66)};
\addplot[vl] coordinates {(-148,-1)(-148,3)};
\addplot[vl] coordinates {(-93,-1)(-93,3)};
\addplot[vl] coordinates {(-70,-1)(-70,3)};
\addplot[gray, line width=0.9bp, dash pattern=on 3.2bp off 2bp] coordinates {(18,-1)(18,3)};
\addplot[vl] coordinates {(71,-1)(71,3)};
\addplot[vl] coordinates {(120,-1)(120,3)};
\addplot[mplblue, line width=5bp] coordinates {(-26,1.80)(-26,1.97)};
\addplot[mplred, line width=5bp] coordinates {(24,1.80)(24,1.97)};
\node[anchor=base west, inner sep=0pt, font=\lab] at (axis cs:-148,-0.3) {a};
\node[anchor=base east, inner sep=0pt, font=\lab] at (axis cs:-93,-0.3) {b};
\node[anchor=base west, inner sep=0pt, font=\lab] at (axis cs:-70,-0.3) {c};
\node[anchor=base west, inner sep=0pt, font=\lab] at (axis cs:18,-0.3) {d};
\node[anchor=base west, inner sep=0pt, font=\lab] at (axis cs:71,-0.3) {e};
\node[anchor=base west, inner sep=0pt, font=\lab] at (axis cs:120,-0.3) {f};
\end{axis}
% ================= RIGHT BOTTOM RESIDUAL
\begin{axis}[base, at={(pRBr)}, anchor=north west, width=321bp, height=50bp, ymin=-4, ymax=4,
  xtick={-200,-100,0,100,200}, xticklabels={−200,−100,0,100,200}]
\addplot[resr] table[x=x,y=r]{\RRB};
\addplot[resb] table[x=x,y=b]{\RRB};
\addplot[dotl] coordinates {(-262,1)(262,1)};
\addplot[dotl] coordinates {(-262,-1)(262,-1)};
\addplot[vl] coordinates {(-148,-5)(-148,5)};
\addplot[vl] coordinates {(-93,-5)(-93,5)};
\addplot[vl] coordinates {(-70,-5)(-70,5)};
\addplot[gray, line width=0.9bp, dash pattern=on 3.2bp off 2bp] coordinates {(18,-5)(18,5)};
\addplot[vl] coordinates {(71,-5)(71,5)};
\addplot[vl] coordinates {(120,-5)(120,5)};
\end{axis}
% ================= TEXT
\node[font=\lab] at (236,437) {2nd\_CIV\&SiIV@z=4.6250};
\node[font=\lab] at (571.5,437) {3rd\_CIV\&SiIV@z=4.4804};
\node[font=\lab, rotate=90] at (62,355) {Normed Flux};
\node[font=\lab, rotate=90] at (62,162) {Normed Flux};
\node[font=\lab, rotate=90] at (22,258) {(D-M)/E};
\node[font=\lab, rotate=90] at (23,66) {(D-M)/E};
\node[font=\lab] at (236,9) {Velocity (km/s)};
\node[font=\lab] at (571.5,9) {Velocity (km/s)};
\end{tikzpicture}
\end{document}
